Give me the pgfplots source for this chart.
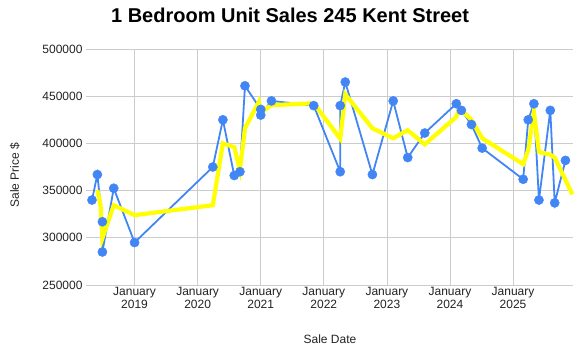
\documentclass[border=0pt]{standalone}
\usepackage{pgfplots}
\pgfplotsset{compat=1.18}
\usepackage{pgfplotstable}
\usepackage{fontspec}
\setmainfont{Liberation Sans}
\definecolor{gblue}{HTML}{4285F4}
\definecolor{gyellow}{HTML}{FFFF00}
\definecolor{gridc}{HTML}{CCCCCC}
\definecolor{txt}{HTML}{222222}
\pgfplotstableread{
x y
2018.325 340000
2018.41 367000
2018.49 317000
2018.49 285000
2018.67 352500
2019.00 295000
2020.24 375000
2020.40 425000
2020.58 366000
2020.67 370000
2020.75 461000
2021.00 436000
2021.00 430000
2021.17 445000
2021.84 440000
2022.26 370000
2022.26 440000
2022.34 465000
2022.77 367000
2023.10 445000
2023.33 385000
2023.60 411000
2024.10 442000
2024.18 435000
2024.34 420000
2024.51 395000
2025.16 362000
2025.24 425000
2025.33 442000
2025.41 340000
2025.59 435000
2025.66 337000
2025.83 382000
}\sales
\pgfplotstableread{
x y
2018.41 350500
2018.46 335000
2018.49 299500
2018.67 334500
2019.00 324000
2020.24 334500
2020.40 400000
2020.58 396000
2020.67 372000
2020.75 416000
2020.97 444000
2021.00 433000
2021.17 440500
2021.84 442500
2022.26 405000
2022.34 452000
2022.77 416000
2023.10 405500
2023.33 414000
2023.60 399000
2024.10 428000
2024.15 437000
2024.34 425000
2024.51 405500
2025.16 378000
2025.24 393000
2025.33 433500
2025.41 391000
2025.59 388000
2025.66 385000
2025.94 346000
}\trend
\begin{document}
\begin{tikzpicture}
\useasboundingbox (-86bp,-69bp) rectangle (494bp,285bp);
\begin{axis}[
  at={(0,0)}, anchor=south west,
  width=487bp, height=236bp, scale only axis,
  xmin=2018.23, xmax=2025.95,
  ymin=250000, ymax=500000,
  axis line style={draw=none},
  tick style={draw=none},
  xmajorgrids, ymajorgrids,
  grid style={gridc, line width=0.8bp},
  xtick={2019,2020,2021,2022,2023,2024,2025},
  xticklabels={January\\2019,January\\2020,January\\2021,January\\2022,January\\2023,January\\2024,January\\2025},
  xticklabel style={align=center, font=\fontsize{12bp}{12.5bp}\selectfont, text=txt, yshift=1bp},
  ytick={250000,300000,350000,400000,450000,500000},
  yticklabel style={font=\fontsize{12bp}{14bp}\selectfont, text=txt},
  scaled y ticks=false,
  /pgf/number format/assume math mode=true,
  yticklabel={\pgfmathprintnumber[fixed,1000 sep={}]{\tick}},
  clip=false,
  title={\textbf{1 Bedroom Unit Sales 245 Kent Street}},
  title style={at={(axis description cs:0.419,1.085)}, anchor=base, font=\fontsize{20bp}{24bp}\selectfont},
  xlabel={Sale Date},
  xlabel style={at={(axis description cs:0.501,-0.246)}, anchor=base, font=\fontsize{12bp}{14bp}\selectfont, text=txt},
  ylabel={Sale Price \$},
  ylabel style={at={(axis description cs:-0.146,0.466)}, anchor=center, font=\fontsize{12bp}{14bp}\selectfont, text=txt},
]
\addplot[gblue, line width=1.8bp, no marks] table[x=x,y=y] {\sales};
\addplot[gyellow, line width=4.2bp, no marks] table[x=x,y=y] {\trend};
\addplot[gblue, only marks, mark=*, mark size=4.6bp, mark options={fill=gblue, draw=gblue, line width=0.4bp}] table[x=x,y=y] {\sales};
\end{axis}
\end{tikzpicture}
\end{document}
